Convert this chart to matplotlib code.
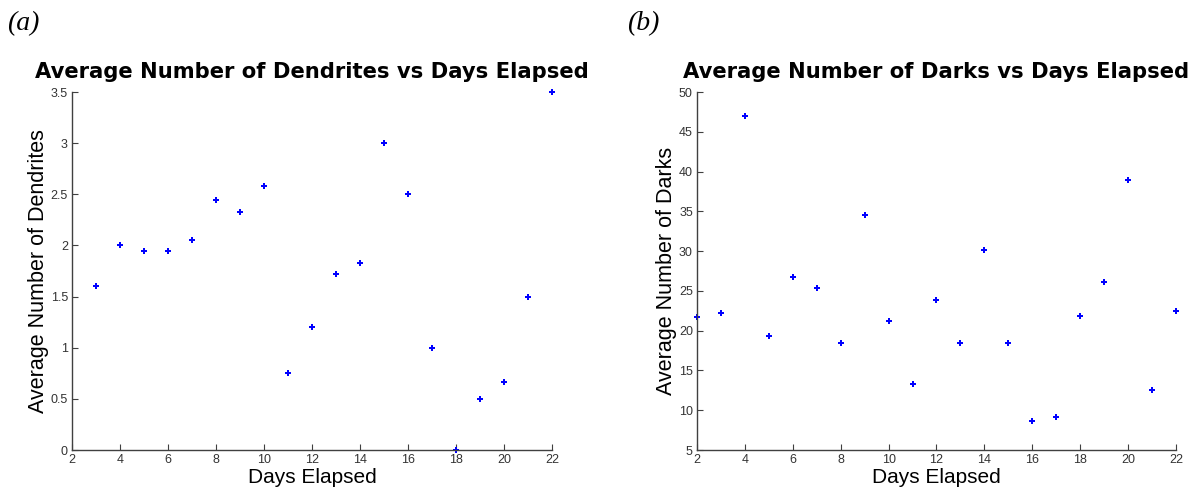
import matplotlib.pyplot as plt

days_a = [3, 4, 5, 6, 7, 8, 9, 10, 11, 12, 13, 14, 15, 16, 17, 18, 19, 20, 21, 22]
dendrites = [1.6, 2.0, 1.95, 1.95, 2.05, 2.44, 2.33, 2.58, 0.75, 1.2, 1.72, 1.83,
             3.0, 2.5, 1.0, 0.0, 0.5, 0.66, 1.5, 3.5]

days_b = [2, 3, 4, 5, 6, 7, 8, 9, 10, 11, 12, 13, 14, 15, 16, 17, 18, 19, 20, 21, 22]
darks = [21.7, 22.2, 47.0, 19.3, 26.7, 25.4, 18.4, 34.6, 21.2, 13.3, 23.8, 18.4,
         30.2, 18.5, 8.6, 9.1, 21.8, 26.1, 39.0, 12.6, 22.5]

plt.rcParams['font.family'] = ['Liberation Sans', 'DejaVu Sans']

fig = plt.figure(figsize=(11.98, 4.95), dpi=100)
ax1 = fig.add_axes([0.0601, 0.0909, 0.4007, 0.7232])
ax2 = fig.add_axes([0.5818, 0.0909, 0.3998, 0.7232])


def style(ax, x, y, ylim, yticks, title, ylabel):
    ax.plot(x, y, linestyle='none', marker='P', markersize=4.5, color='#0000ff',
            markeredgewidth=0, clip_on=False)
    ax.set_xlim(2, 22)
    ax.set_xticks(range(2, 23, 2))
    ax.set_ylim(*ylim)
    ax.set_yticks(yticks)
    ax.set_yticklabels(['{:g}'.format(v) for v in yticks])
    for s in ['top', 'right']:
        ax.spines[s].set_visible(False)
    for s in ['left', 'bottom']:
        ax.spines[s].set_color('#404040')
        ax.spines[s].set_linewidth(1.0)
    ax.tick_params(direction='in', length=4, width=0.8, colors='#404040',
                   labelsize=9, labelcolor='#333333', pad=3)
    ax.set_title(title, fontsize=15.2, fontweight='bold', pad=10,
                 family=['DejaVu Sans'])
    ax.set_xlabel('Days Elapsed', fontsize=15, labelpad=1)
    ax.set_ylabel(ylabel, fontsize=15.5, labelpad=1)


style(ax1, days_a, dendrites, (0, 3.5), [0, 0.5, 1, 1.5, 2, 2.5, 3, 3.5],
      'Average Number of Dendrites vs Days Elapsed', 'Average Number of Dendrites')
style(ax2, days_b, darks, (5, 50), list(range(5, 51, 5)),
      'Average Number of Darks vs Days Elapsed', 'Average Number of Darks')

fig.text(0.006, 0.952, '(a)', fontsize=20, style='italic',
         family=['Liberation Serif', 'DejaVu Serif'], va='center')
fig.text(0.523, 0.952, '(b)', fontsize=20, style='italic',
         family=['Liberation Serif', 'DejaVu Serif'], va='center')

fig.savefig('out.png', dpi=100)
